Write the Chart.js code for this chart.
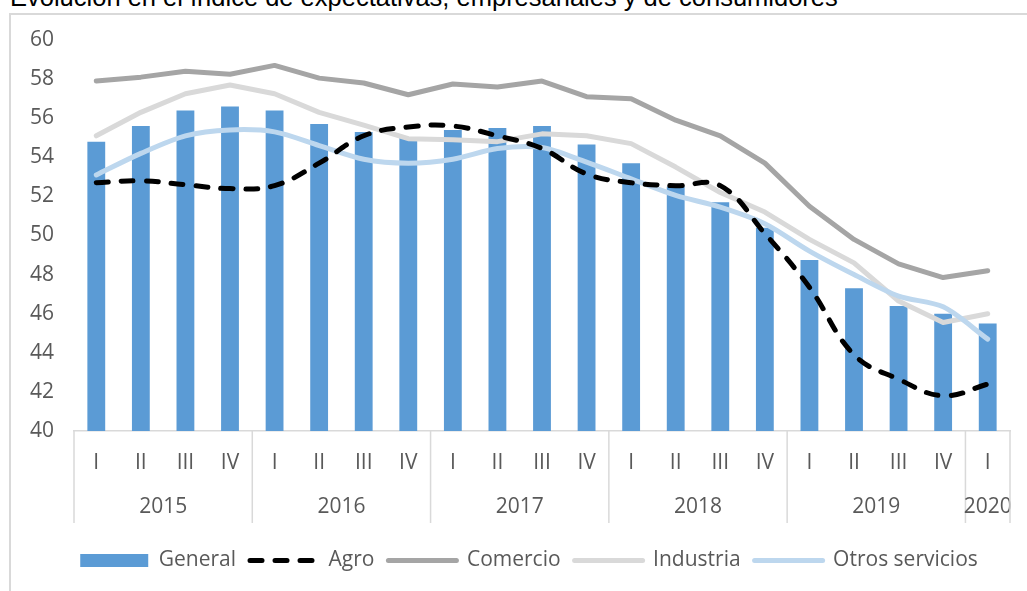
<!DOCTYPE html>
<html>
<head>
<meta charset="utf-8">
<script src="https://cdn.jsdelivr.net/npm/chart.js@4/dist/chart.umd.min.js"></script>
<style>
  html, body { margin:0; padding:0; background:#fff; overflow:hidden; }
  #wrap { position:relative; width:1027px; height:591px; overflow:hidden; }
  #title { position:absolute; left:10px; top:-15px; font-family:"Liberation Sans", Arial, sans-serif; font-size:25.5px; line-height:25.5px; color:#000; white-space:nowrap; }
  #frame { position:absolute; left:9px; top:13px; width:1100px; height:700px; border:2px solid #d9d9d9; box-sizing:border-box; }
  canvas { position:absolute; left:0; top:0; }
</style>
</head>
<body>
<div id="wrap">
  <div id="title">Evolución en el índice de expectativas, empresariales y de consumidores</div>
  <div id="frame"></div>
  <canvas id="c" width="1027" height="591"></canvas>
</div>
<script>
const quarters = ['I','II','III','IV','I','II','III','IV','I','II','III','IV','I','II','III','IV','I','II','III','IV','I'];
const years = ['2015','2016','2017','2018','2019','2020'];
const quartersPerYear = [4,4,4,4,4,1];
const yTicksMin = 40, yTicksMax = 60, yTicksStep = 2;

const general   = [54.8, 55.6, 56.4, 56.6, 56.4, 55.7, 55.3, 55.0, 55.4, 55.5, 55.6, 54.65, 53.7, 52.5, 51.7, 50.4, 48.75, 47.3, 46.4, 46.0, 45.5];
const agro      = [52.7, 52.8, 52.6, 52.4, 52.55, 53.7, 55.1, 55.55, 55.6, 55.1, 54.45, 53.15, 52.7, 52.55, 52.55, 50.1, 47.35, 43.9, 42.65, 41.8, 42.4];
const comercio  = [57.9, 58.1, 58.4, 58.25, 58.7, 58.05, 57.8, 57.2, 57.75, 57.6, 57.9, 57.1, 57.0, 55.9, 55.1, 53.7, 51.5, 49.8, 48.55, 47.85, 48.2];
const industria = [55.1, 56.3, 57.25, 57.7, 57.25, 56.3, 55.65, 54.95, 54.9, 54.8, 55.2, 55.1, 54.7, 53.5, 52.2, 51.2, 49.8, 48.6, 46.65, 45.55, 46.0];
const otros     = [53.1, 54.2, 55.1, 55.4, 55.3, 54.6, 53.9, 53.7, 53.9, 54.45, 54.5, 53.75, 52.9, 52.05, 51.45, 50.6, 49.2, 48.0, 46.9, 46.35, 44.7];

const FONT = '"Open Sans", "Liberation Sans", Arial, sans-serif';
const TXT = '#595959';
const AXIS = '#d9d9d9';
const AGRO_DASH = [12, 13];

const yearPlugin = {
  id: 'yearGroups',
  afterLayout(chart) {
    // nudge the legend so it is centred like the reference
    const lg = chart.legend;
    if (lg) { lg.left += 11; lg.right += 11; }
  },
  afterDraw(chart) {
    const x = chart.scales.x;
    const ctx = chart.ctx;
    const step = x.getPixelForValue(1) - x.getPixelForValue(0);
    const top = x.top;
    const bottom = x.top + 92;
    ctx.save();
    ctx.strokeStyle = AXIS;
    ctx.lineWidth = 1.5;
    ctx.fillStyle = TXT;
    ctx.font = '21px ' + FONT;
    ctx.textAlign = 'center';
    ctx.textBaseline = 'middle';
    let start = 0;
    const drawSep = (px) => { ctx.beginPath(); ctx.moveTo(px, top); ctx.lineTo(px, bottom); ctx.stroke(); };
    drawSep(x.getPixelForValue(0) - step / 2);
    years.forEach((y, i) => {
      const end = start + quartersPerYear[i] - 1;
      const p0 = x.getPixelForValue(start), p1 = x.getPixelForValue(end);
      ctx.fillText(y, (p0 + p1) / 2, top + 76);
      drawSep(p1 + step / 2);
      start = end + 1;
    });
    ctx.restore();
  }
};

new Chart(document.getElementById('c'), {
  type: 'bar',
  data: {
    labels: quarters,
    datasets: [
      { type:'bar', label:'General', data: general, backgroundColor:'#5b9bd5', borderWidth:0, barPercentage:0.4, categoryPercentage:1, order:4 },
      { type:'line', label:'Agro', data: agro, borderColor:'#000000', backgroundColor:'#000000', borderWidth:5, borderDash:AGRO_DASH, borderCapStyle:'round', tension:0.4, pointRadius:0, fill:false, order:0 },
      { type:'line', label:'Comercio', data: comercio, borderColor:'#a5a5a5', backgroundColor:'#a5a5a5', borderWidth:5, borderCapStyle:'round', borderJoinStyle:'round', tension:0, pointRadius:0, fill:false, order:3 },
      { type:'line', label:'Industria', data: industria, borderColor:'#d9d9d9', backgroundColor:'#d9d9d9', borderWidth:5, borderCapStyle:'round', borderJoinStyle:'round', tension:0, pointRadius:0, fill:false, order:2 },
      { type:'line', label:'Otros servicios', data: otros, borderColor:'#bdd7ee', backgroundColor:'#bdd7ee', borderWidth:5, borderCapStyle:'round', borderJoinStyle:'round', tension:0.3, pointRadius:0, fill:false, order:1 }
    ]
  },
  options: {
    responsive:false,
    animation:false,
    devicePixelRatio:1,
    layout: { padding: { left:26, right:17, top:40, bottom:10 } },
    scales: {
      y: {
        min: yTicksMin, max: yTicksMax,
        ticks: { stepSize: yTicksStep, color: TXT, font: { family: FONT, size: 21 }, padding: 20 },
        grid: { display:false, drawTicks:false },
        border: { display:false },
        afterFit(scale) { scale.width = 48; }
      },
      x: {
        offset: true,
        ticks: { color: TXT, font: { family: FONT, size: 21 }, padding: 19, autoSkip:false, maxRotation:0 },
        grid: { display:false, drawTicks:false },
        border: { display:true, color: AXIS, width:1.5 },
        afterFit(scale) { scale.height = 105; }
      }
    },
    plugins: {
      legend: {
        position:'bottom',
        labels: {
          usePointStyle:true,
          pointStyleWidth:68,
          boxHeight:13,
          padding:14,
          color: TXT,
          font: { family: FONT, size: 21 },
          sort: (a, b) => a.datasetIndex - b.datasetIndex,
          generateLabels(chart) {
            const items = Chart.defaults.plugins.legend.labels.generateLabels(chart);
            items.forEach(it => {
              const ds = chart.data.datasets[it.datasetIndex];
              if (it.datasetIndex === 0) {
                it.pointStyle = 'rect';
                it.lineWidth = 0;
              } else {
                it.pointStyle = 'line';
                it.lineWidth = 5;
                it.strokeStyle = ds.borderColor;
                it.lineCap = 'round';
                it.lineDash = ds.borderDash || [];
              }
            });
            return items;
          }
        }
      },
      tooltip: { enabled:false }
    }
  },
  plugins: [yearPlugin]
});
</script>
</body>
</html>
